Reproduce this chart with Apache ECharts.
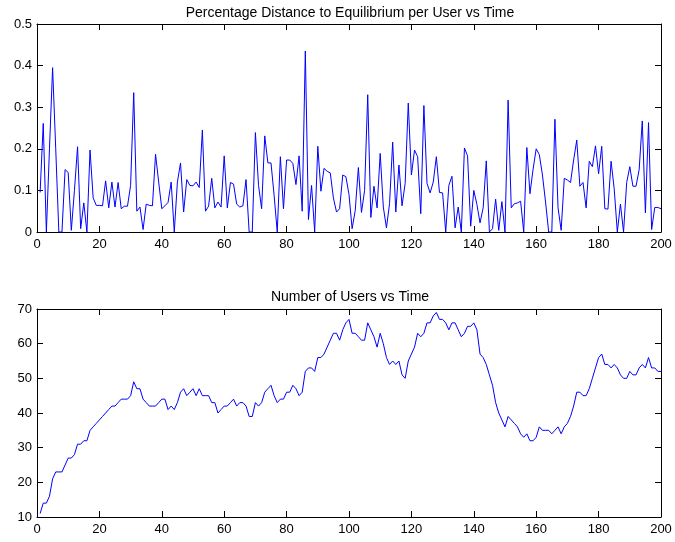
<!DOCTYPE html>
<html>
<head>
<meta charset="utf-8">
<script src="https://cdn.jsdelivr.net/npm/echarts@6/dist/echarts.min.js"></script>
<style>
  html, body { margin: 0; padding: 0; background: #fff; }
  #chart { width: 675px; height: 542px; }
</style>
</head>
<body>
<div id="chart"></div>
<script>
// Percentage distance to equilibrium per user, time steps 1..200
const distance = [
  0.095, 0.261, 0, 0.2, 0.395, 0.2, 0, 0, 0.15, 0.143,
  0.004, 0.1, 0.205, 0.008, 0.07, 0, 0.197, 0.082, 0.064, 0.064,
  0.063, 0.123, 0.058, 0.12, 0.06, 0.119, 0.056, 0.062, 0.062, 0.112,
  0.335, 0.05, 0.06, 0.006, 0.067, 0.064, 0.063, 0.187, 0.12, 0.056,
  0.063, 0.071, 0.12, 0, 0.12, 0.166, 0.048, 0.126, 0.112, 0.111,
  0.12, 0.107, 0.245, 0.05, 0.062, 0.129, 0.058, 0.072, 0.06, 0.183,
  0.058, 0.119, 0.115, 0.067, 0.06, 0.063, 0.126, 0, 0, 0.239,
  0.112, 0.056, 0.231, 0.166, 0.166, 0.088, 0, 0.181, 0.056, 0.173,
  0.173, 0.165, 0.114, 0.183, 0.05, 0.435, 0.03, 0.112, 0, 0.206,
  0.098, 0.153, 0.146, 0.142, 0.082, 0.048, 0.056, 0.137, 0.133, 0.09,
  0.008, 0.052, 0.155, 0.047, 0.1, 0.33, 0.035, 0.11, 0.058, 0.189,
  0.06, 0.01, 0.068, 0.216, 0.048, 0.161, 0.063, 0.117, 0.31, 0.137,
  0.197, 0.181, 0.044, 0.304, 0.117, 0.094, 0.12, 0.181, 0.095, 0.094,
  0, 0.112, 0.134, 0.01, 0.06, 0, 0.202, 0.183, 0.014, 0.1,
  0.066, 0.022, 0.058, 0.171, 0, 0.008, 0.079, 0.004, 0.073, 0,
  0.317, 0.058, 0.068, 0.07, 0.074, 0, 0.203, 0.092, 0.151, 0.2,
  0.186, 0.137, 0.072, 0, 0, 0.271, 0.058, 0.004, 0.129, 0.125,
  0.119, 0.173, 0.221, 0.11, 0.119, 0.058, 0.17, 0.157, 0.207, 0.14,
  0.206, 0.056, 0.055, 0.17, 0.104, 0, 0.067, 0, 0.119, 0.157,
  0.11, 0.11, 0.15, 0.267, 0.046, 0.263, 0.006, 0.059, 0.059, 0.056
];

// Number of users, time steps 1..200
const users = [
  11, 14, 14, 16, 21, 23, 23, 23, 25, 27,
  27, 28, 31, 31, 32, 32, 35, 36, 37, 38,
  39, 40, 41, 42, 42, 43, 44, 44, 44, 45,
  49, 47, 47, 44, 43, 42, 42, 42, 43, 44,
  44, 41, 42, 41, 43, 46, 47, 45, 46, 47,
  45, 47, 45, 45, 45, 43, 43, 40, 41, 42,
  42, 43, 44, 42, 43, 43, 42, 39, 39, 43,
  42, 43, 46, 47, 48, 45, 43, 44, 44, 46,
  46, 48, 47, 45, 46, 52, 53, 53, 52, 56,
  56, 57, 59, 61, 63, 63, 61, 64, 66, 67,
  63, 63, 62, 61, 61, 66, 64, 62, 59, 63,
  60, 56, 54, 55, 54, 55, 51, 50, 55, 57,
  59, 63, 62, 63, 66, 66, 68, 69, 67, 67,
  66, 64, 66, 66, 64, 62, 63, 65, 65, 66,
  64, 57, 56, 54, 51, 48, 43, 40, 38, 36,
  39, 38, 37, 36, 34, 33, 34, 32, 32, 33,
  36, 35, 35, 35, 34, 35, 36, 34, 36, 37,
  39, 42, 46, 46, 45, 45, 47, 50, 53, 56,
  57, 54, 54, 53, 54, 53, 51, 50, 50, 52,
  51, 51, 53, 54, 53, 56, 53, 53, 52, 52
];

const titles = ['Percentage Distance to Equilibrium per User vs Time', 'Number of Users vs Time'];
const xTicks = [0, 200, 20];
const distTicks = [0, 0.5, 0.1];
const userTicks = [10, 70, 10];

const toPoints = arr => arr.map((v, i) => [i + 1, v]);
const FONT = 'Liberation Sans, Arial, Helvetica, sans-serif';
const ink = '#000';

function xAxisPair(gridIndex) {
  const base = {
    type: 'value', gridIndex,
    min: xTicks[0], max: xTicks[1], interval: xTicks[2],
    splitLine: { show: false },
    axisLine: { show: true, onZero: false, lineStyle: { color: ink, width: 1 } },
    axisTick: { show: true, inside: true, length: 6, lineStyle: { color: ink } }
  };
  return [
    Object.assign({}, base, {
      position: 'bottom',
      axisLabel: { color: ink, fontSize: 13, fontFamily: FONT, margin: 6 }
    }),
    Object.assign({}, base, { position: 'top', axisLabel: { show: false } })
  ];
}

function yAxisPair(gridIndex, ticks, fmt) {
  const base = {
    type: 'value', gridIndex,
    min: ticks[0], max: ticks[1], interval: ticks[2],
    splitLine: { show: false },
    axisLine: { show: true, onZero: false, lineStyle: { color: ink, width: 1 } },
    axisTick: { show: true, inside: true, length: 6, lineStyle: { color: ink } }
  };
  return [
    Object.assign({}, base, {
      position: 'left',
      axisLabel: { color: ink, fontSize: 13, fontFamily: FONT, margin: 5, formatter: fmt }
    }),
    Object.assign({}, base, { position: 'right', axisLabel: { show: false } })
  ];
}

const chart = echarts.init(document.getElementById('chart'), null, { renderer: 'canvas' });

chart.setOption({
  animation: false,
  backgroundColor: '#fff',
  title: [
    { text: titles[0], left: 345, top: 1, textAlign: 'center',
      textStyle: { fontSize: 14, fontWeight: 'normal', color: ink, fontFamily: FONT } },
    { text: titles[1], left: 345, top: 285, textAlign: 'center',
      textStyle: { fontSize: 14, fontWeight: 'normal', color: ink, fontFamily: FONT } }
  ],
  grid: [
    { left: 37, right: 14, top: 24, height: 208 },
    { left: 37, right: 14, top: 309, height: 208 }
  ],
  xAxis: [...xAxisPair(0), ...xAxisPair(1)],
  yAxis: [
    ...yAxisPair(0, distTicks, v => (v === 0 ? '0' : String(+v.toFixed(1)))),
    ...yAxisPair(1, userTicks)
  ],
  series: [
    {
      type: 'line', xAxisIndex: 0, yAxisIndex: 0,
      data: toPoints(distance), symbol: 'none',
      lineStyle: { color: '#0000ff', width: 1 }
    },
    {
      type: 'line', xAxisIndex: 2, yAxisIndex: 2,
      data: toPoints(users), symbol: 'none',
      lineStyle: { color: '#0000ff', width: 1 }
    }
  ]
});
</script>
</body>
</html>
